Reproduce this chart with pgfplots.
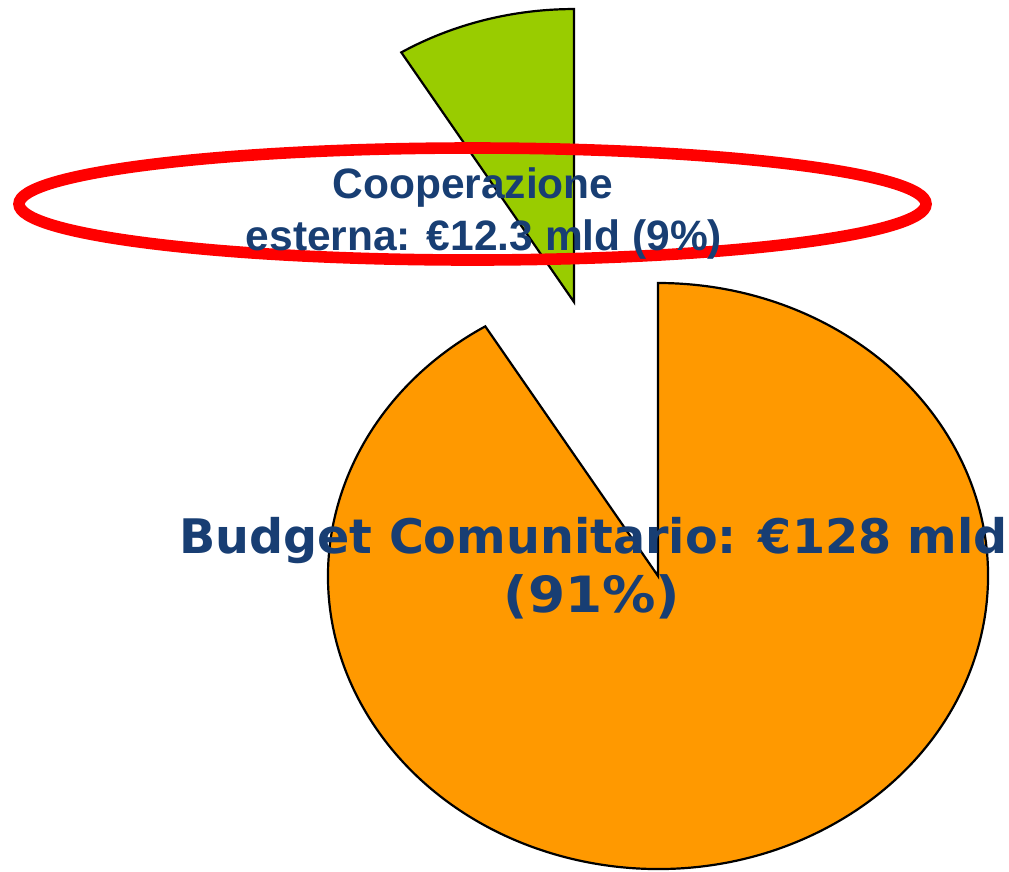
\documentclass[border=0pt]{standalone}
\usepackage{pgfplots}
\pgfplotsset{compat=1.18}
\usepackage{graphicx}
\usepackage{fontspec}
\setmainfont{Liberation Sans}
\newfontfamily\dejavu{DejaVu Sans}
\definecolor{pieorange}{HTML}{FF9900}
\definecolor{piegreen}{HTML}{99CC00}
\definecolor{txtblue}{RGB}{24,62,115}
% data (billion EUR)
\def\valBudget{128}
\def\valCoop{12.3}
\pgfmathsetmacro\total{\valBudget+\valCoop}
\pgfmathsetmacro\angCoop{360*\valCoop/\total}
\pgfmathsetmacro\aEnd{90+\angCoop}
\pgfmathsetmacro\cxE{cos(\aEnd)}
\pgfmathsetmacro\syE{sin(\aEnd)}
% explode offset of the small slice
\def\dx{-0.2545}
\def\dy{0.935}
\pgfmathsetmacro\gxE{\dx+\cxE}
\pgfmathsetmacro\gyE{\dy+\syE}
\pgfmathsetmacro\gyT{\dy+1}
\begin{document}
\begin{tikzpicture}
\begin{axis}[name=ax, hide axis, scale only axis,
  x=165pt, y=146.5pt,
  xmin=-1.9939, xmax=1.0636, ymin=-1.0068, ymax=1.9659,
  clip=false]
\addplot[draw=none] coordinates {(0,0)};
\draw[fill=pieorange, line width=1.1pt, line join=miter]
  (axis cs:0,0) -- (axis cs:\cxE,\syE)
  arc[start angle=\aEnd, end angle=450, x radius=165pt, y radius=146.5pt] -- cycle;
\draw[fill=piegreen, line width=1.1pt, line join=miter]
  (axis cs:\dx,\dy) -- (axis cs:\dx,\gyT)
  arc[start angle=90, end angle=\aEnd, x radius=165pt, y radius=146.5pt] -- cycle;
\draw[red, line width=5.8pt] (axis cs:-0.5621,1.2696) ellipse[x radius=226.75pt, y radius=28pt];
\node[anchor=base, text=txtblue, font=\fontsize{21.25}{25}\selectfont\bfseries, inner sep=0pt]
  at (axis cs:-0.5606,1.2867) {Cooperazione};
\node[anchor=base, text=txtblue, font=\fontsize{21.25}{25}\selectfont\bfseries, inner sep=0pt]
  at (axis cs:-0.5273,1.1126) {esterna: €12.3 mld (9\%)};
\node[anchor=base, text=txtblue, font=\dejavu\fontsize{23.8}{28}\selectfont\bfseries, inner sep=0pt]
  at (axis cs:-0.1955,0.0785) {Budget Comunitario: €128 mld};
\node[anchor=base, text=txtblue, font=\dejavu\fontsize{23.8}{28}\selectfont\bfseries, inner sep=0pt]
  at (axis cs:-0.2,-0.1229) {\scalebox{1.12}[1.05]{(91\%)}};
\end{axis}
\pgfresetboundingbox
\path (ax.south west) rectangle (ax.north east);
\end{tikzpicture}
\end{document}
